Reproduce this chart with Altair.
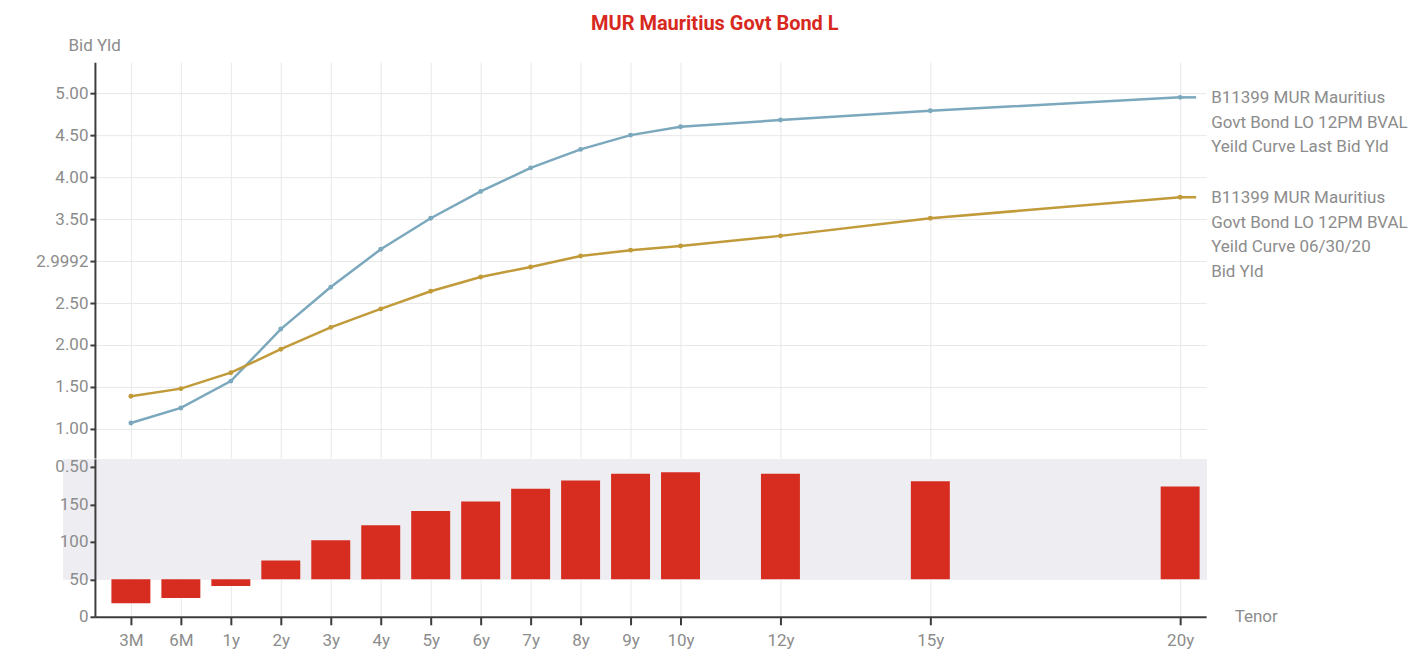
import altair as alt
import pandas as pd

# Tenor buckets and their positions on the x axis
tenors = ["3M", "6M", "1y", "2y", "3y", "4y", "5y", "6y", "7y", "8y", "9y", "10y", "12y", "15y", "20y"]
tenor_pos = [-1, 0, 1, 2, 3, 4, 5, 6, 7, 8, 9, 10, 12, 15, 20]

# Bid yields (%)
last_bid = [1.07, 1.25, 1.57, 2.19, 2.69, 3.14, 3.51, 3.83, 4.11, 4.33, 4.50, 4.60, 4.68, 4.79, 4.95]
prior_bid = [1.39, 1.48, 1.67, 1.95, 2.21, 2.43, 2.64, 2.81, 2.93, 3.06, 3.13, 3.18, 3.30, 3.51, 3.76]

# Spread between the two curves (bp)
spread_bp = [-32, -25, -9, 25, 52, 72, 91, 104, 121, 132, 141, 143, 141, 131, 124]

series_names = [
    "B11399 MUR Mauritius\nGovt Bond LO 12PM BVAL\nYeild Curve Last Bid Yld",
    "B11399 MUR Mauritius\nGovt Bond LO 12PM BVAL\nYeild Curve 06/30/20\nBid Yld",
]
series_colors = ["#7ba8bd", "#c19a3a"]

yield_ticks = [1.0, 1.5, 2.0, 2.5, 2.9992, 3.5, 4.0, 4.5, 5.0]
spread_ticks = [-50, 0, 50, 100, 150]

W = 1112
H_TOP, H_BOT = 396, 158
FONT = "Roboto"
LABEL_GREY = "#8c8c8c"
AXIS_DARK = "#3d3d3d"
GRID = "#e8e8e8"

curves = pd.DataFrame({
    "pos": tenor_pos * 2,
    "tenor": tenors * 2,
    "series": [series_names[0]] * len(tenors) + [series_names[1]] * len(tenors),
    "yld": last_bid + prior_bid,
})
ends = pd.DataFrame({
    "pos": [tenor_pos[-1]] * 2,
    "series": series_names,
    "yld": [last_bid[-1], prior_bid[-1]],
})
spreads = pd.DataFrame({"pos": tenor_pos, "tenor": tenors, "bp": spread_bp})

# x-axis labels: map positions back to tenor names
label_expr = "''"
for p, t in reversed(list(zip(tenor_pos, tenors))):
    label_expr = f"datum.value == {p} ? '{t}' : ({label_expr})"

# same tenor scale in both panels (no extra padding for the bars)
x_scale = alt.Scale(domain=[-1.72, 20.52], nice=False, zero=False, padding=0)

# top panel: only vertical grid lines from the x axis
x_top = alt.X("pos:Q", scale=x_scale, axis=alt.Axis(
    values=tenor_pos, labels=False, ticks=False, domain=False, title=None,
    grid=True, gridColor=GRID,
))
# bottom panel: full tenor axis
x_bot = alt.X("pos:Q", scale=x_scale, axis=alt.Axis(
    values=tenor_pos, labelExpr=label_expr, title="Tenor",
    grid=True, gridColor=GRID, tickSize=8, labelPadding=8,
    titleX=W + 28, titleY=0, titleAlign="left", titleBaseline="middle", titleAngle=0,
))

yld_scale = alt.Scale(domain=[0.655, 5.369], nice=False, zero=False)
yld_axis = alt.Axis(
    values=yield_ticks,
    labelExpr="datum.value == 2.9992 ? '2.9992' : format(datum.value, '.2f')",
    title="Bid Yld", titleAngle=0, titleX=-27, titleY=-17,
    titleAlign="left", titleBaseline="middle", tickSize=5, gridColor=GRID,
    labelOverlap=False,
)
y_yld = alt.Y("yld:Q", scale=yld_scale, axis=yld_axis)
color = alt.Color("series:N", scale=alt.Scale(domain=series_names, range=series_colors), legend=None)

yld_line = alt.Chart(curves).mark_line(strokeWidth=2.5).encode(x=x_top, y=y_yld, color=color)
yld_pts = alt.Chart(curves).mark_point(filled=True, size=24, opacity=1).encode(
    x=x_top, y=y_yld, color=color
)
yld_tail = alt.Chart(ends).mark_rule(strokeWidth=2.5).encode(
    x=x_top, x2=alt.value(W - 10), y=y_yld, color=color
)
yld_text = alt.Chart(ends).mark_text(
    align="left", baseline="top", dy=-7, lineBreak="\n", lineHeight=24.5,
    font=FONT, fontSize=17, color=LABEL_GREY,
).encode(x=alt.value(W + 5), y=y_yld, text="series:N")
yield_panel = alt.layer(yld_line, yld_pts, yld_tail, yld_text).properties(width=W, height=H_TOP)

bp_scale = alt.Scale(domain=[-50, 160.67], nice=False, zero=True)
bp_axis = alt.Axis(
    values=spread_ticks,
    labelExpr="datum.value == 150 ? '0.50' : format(datum.value + 50, 'd')",
    title=None, tickSize=5, gridColor=GRID, zindex=1, labelOverlap=False,
)
band = alt.Chart(spreads).mark_rect(color="#eeeef1", opacity=0.75).encode(
    x=alt.value(-32), x2=alt.value(W),
    y=alt.YDatum(160.67, scale=bp_scale, axis=bp_axis), y2=alt.datum(0),
)
bars = alt.Chart(spreads).mark_bar(size=39, color="#d62d20").encode(
    x=x_bot, y=alt.Y("bp:Q", scale=bp_scale, axis=bp_axis),
)
spread_panel = alt.layer(band, bars).properties(width=W, height=H_BOT)

chart = (
    alt.vconcat(yield_panel, spread_panel, spacing=0)
    .properties(
        padding={"left": 35, "top": 14, "right": 5, "bottom": 5},
        title=alt.TitleParams(
            "MUR Mauritius Govt Bond L", color="#d7291e", font=FONT,
            fontSize=20, fontWeight="bold", anchor="middle", offset=2, dx=-7,
        ),
    )
    .configure_view(stroke=None)
    .configure_axis(
        labelFont=FONT, labelFontSize=17, labelColor=LABEL_GREY,
        titleFont=FONT, titleFontSize=17, titleColor=LABEL_GREY, titleFontWeight="normal",
        domainColor=AXIS_DARK, domainWidth=2, tickColor=AXIS_DARK, tickWidth=2,
        gridWidth=1,
    )
)

chart.save("out.html", embed_options={"renderer": "svg", "actions": False})
